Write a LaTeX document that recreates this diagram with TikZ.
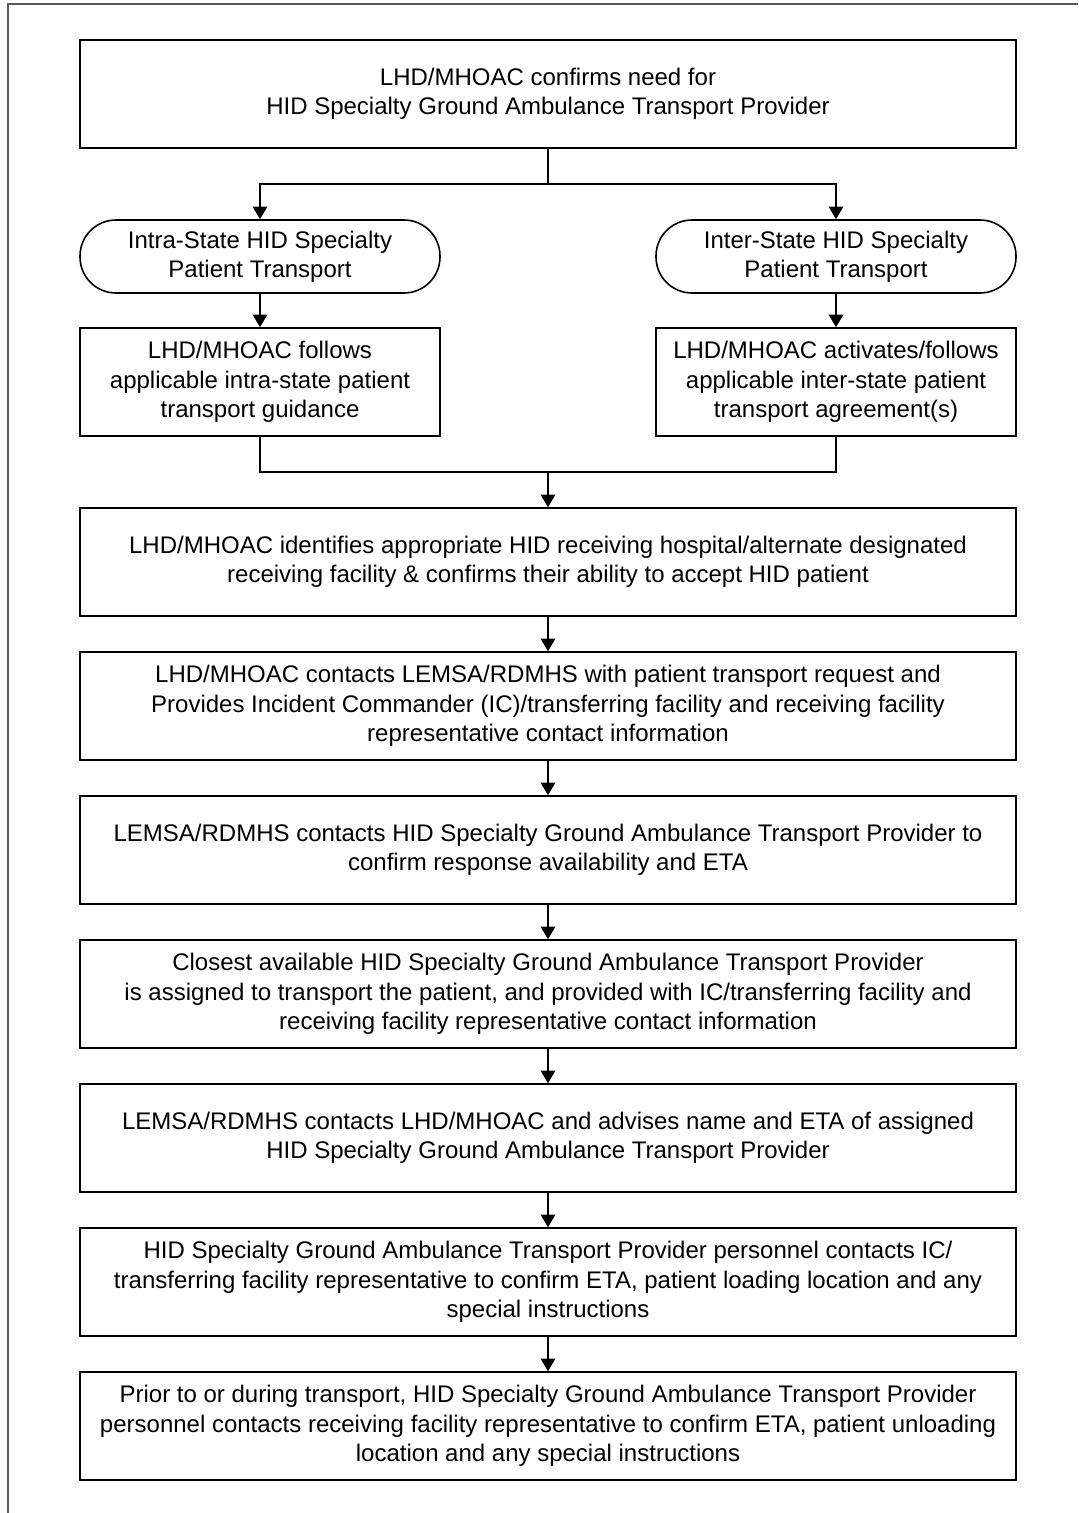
\documentclass[tikz,border=0pt]{standalone}
\usepackage{fontspec}
\setmainfont{Liberation Sans}
\usetikzlibrary{arrows.meta}
\begin{document}
\begin{tikzpicture}[x=0.75pt,y=-0.75pt,
  every node/.style={font=\fontsize{18}{22}\selectfont, align=center, inner sep=0pt},
  mainbox/.style={draw, line width=1.2pt, minimum width=702pt, minimum height=81pt},
  sidebox/.style={draw, line width=1.2pt, minimum width=270pt, minimum height=81pt},
  term/.style={draw, line width=1.2pt, minimum width=270pt, minimum height=54.75pt, rounded corners=27pt},
  conn/.style={line width=1.1pt},
  arr/.style={conn, -{Triangle[length=9.5pt,width=11pt]}},
  frame/.style={draw=black!65, line width=0.8pt}]
\useasboundingbox (0,0) rectangle (1078,1513);
\draw[frame] (8,1513) -- (8,4) -- (1078,4);

\node[mainbox] (b1) at (548,94) {LHD/MHOAC confirms need for\\HID Specialty Ground Ambulance Transport Provider};
\node[term] (t1) at (260,256.5) {Intra-State HID Specialty\\Patient Transport};
\node[term] (t2) at (836,256.5) {Inter-State HID Specialty\\Patient Transport};
\node[sidebox] (s1) at (260,382) {LHD/MHOAC follows\\applicable intra-state patient\\transport guidance};
\node[sidebox] (s2) at (836,382) {LHD/MHOAC activates/follows\\applicable inter-state patient\\transport agreement(s)};
\node[mainbox] (b6) at (548,562) {LHD/MHOAC identifies appropriate HID receiving hospital/alternate designated\\receiving facility \& confirms their ability to accept HID patient};
\node[mainbox] (b7) at (548,706) {LHD/MHOAC contacts LEMSA/RDMHS with patient transport request and\\Provides Incident Commander (IC)/transferring facility and receiving facility\\representative contact information};
\node[mainbox] (b8) at (548,850) {LEMSA/RDMHS contacts HID Specialty Ground Ambulance Transport Provider to\\confirm response availability and ETA};
\node[mainbox] (b9) at (548,994) {Closest available HID Specialty Ground Ambulance Transport Provider\\is assigned to transport the patient, and provided with IC/transferring facility and\\receiving facility representative contact information};
\node[mainbox] (b10) at (548,1138) {LEMSA/RDMHS contacts LHD/MHOAC and advises name and ETA of assigned\\HID Specialty Ground Ambulance Transport Provider};
\node[mainbox] (b11) at (548,1282) {HID Specialty Ground Ambulance Transport Provider personnel contacts IC/\\transferring facility representative to confirm ETA, patient loading location and any\\special instructions};
\node[mainbox] (b12) at (548,1426) {Prior to or during transport, HID Specialty Ground Ambulance Transport Provider\\personnel contacts receiving facility representative to confirm ETA, patient unloading\\location and any special instructions};

\coordinate (split) at (548,184);
\coordinate (merge) at (548,472);
\draw[conn] (b1.south) -- (split);
\draw[arr] (split) -| (t1.north);
\draw[arr] (split) -| (t2.north);
\draw[arr] (t1.south) -- (s1.north);
\draw[arr] (t2.south) -- (s2.north);
\draw[conn] (s1.south) |- (merge);
\draw[conn] (s2.south) |- (merge);
\draw[arr] (merge) -- (b6.north);
\draw[arr] (b6.south) -- (b7.north);
\draw[arr] (b7.south) -- (b8.north);
\draw[arr] (b8.south) -- (b9.north);
\draw[arr] (b9.south) -- (b10.north);
\draw[arr] (b10.south) -- (b11.north);
\draw[arr] (b11.south) -- (b12.north);
\end{tikzpicture}
\end{document}
